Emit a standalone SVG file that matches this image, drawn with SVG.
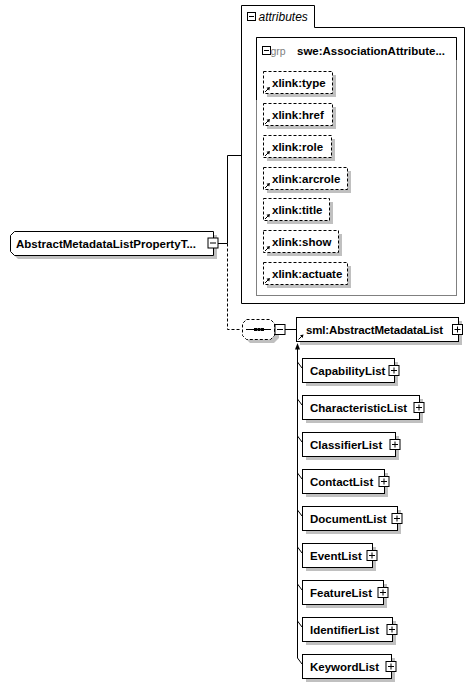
<svg xmlns="http://www.w3.org/2000/svg" width="475" height="688" viewBox="0 0 475 688">
<style>
.box{fill:#fff;stroke:#000;stroke-width:1}
.dbox{fill:#fff;stroke:#000;stroke-width:1;stroke-dasharray:3,2}
.sh{fill:#c0c0c0}
.ln{fill:none;stroke:#000;stroke-width:1}
.dl{fill:none;stroke:#000;stroke-width:1;stroke-dasharray:3,2}
.pm{fill:#fff;stroke:#000;stroke-width:1}
.t{font-family:"Liberation Sans",Arial,sans-serif;font-weight:bold;font-size:11.5px;fill:#000}
.tb{font-family:"Liberation Sans",Arial,sans-serif;font-weight:bold;font-size:11.5px;fill:#000}
.ti{font-family:"Liberation Sans",Arial,sans-serif;font-style:italic;font-size:12px;fill:#000}
.tg{font-family:"Liberation Sans",Arial,sans-serif;font-size:10.5px;fill:#808080}
</style>
<defs>
<g id="lnk"><path d="M0,5 L4,1" class="ln"/><path d="M5,0 L1.5,0.8 L4.2,3.5 Z" fill="#000"/></g>
<g id="minus"><rect x="0.5" y="0.5" width="10" height="10" class="pm"/><path d="M2.5,5.5 H8.5" class="ln"/></g>
<g id="plus"><rect x="0.5" y="0.5" width="10" height="10" class="pm"/><path d="M2.5,5.5 H8.5 M5.5,2.5 V8.5" class="ln"/></g>
<g id="sminus"><rect x="0.5" y="0.5" width="8" height="8" class="pm"/><path d="M2,4.5 H7" class="ln"/></g>
</defs>

<g id="connectors">
<path d="M218,243.5 H227.5 V155.5 H241" class="ln"/>
<path d="M227.5,243.5 V329.5 H241" class="dl"/>
<path d="M285,329.5 H296" class="ln"/>
<path d="M297.5,349 V658 L302,664" class="ln"/>
<path d="M297.5,343 L295,349.5 H300 Z" fill="#000"/>
<path d="M297.5,362 L302,368 M297.5,399 L302,405 M297.5,436 L302,442 M297.5,473 L302,479 M297.5,510 L302,516 M297.5,547 L302,553 M297.5,584 L302,590 M297.5,621 L302,627" class="ln"/>
</g>

<g id="attributes">
<path d="M241.5,5.5 H314.5 V27.5 H464.5 V303.5 H241.5 Z" class="ln"/>
<use href="#sminus" x="247" y="12"/>
<text x="258.5" y="21" class="ti">attributes</text>
</g>

<g id="grp">
<rect x="256.5" y="37.5" width="200" height="258" fill="none" stroke="#808080"/>
<path d="M256.5,100 V37.5 H456.5 V60" class="ln"/>
<use href="#sminus" x="262" y="46"/>
<text x="270.5" y="55" class="tg">grp</text>
<text x="297" y="55" class="t" textLength="148">swe:AssociationAttribute...</text>
</g>

<g id="attr-type"><rect x="267" y="75" width="69" height="22" class="sh"/><rect x="263.5" y="71.5" width="69" height="22" class="dbox"/><use href="#lnk" x="265" y="87"/><text x="272" y="86.5" class="t">xlink:type</text></g>
<g id="attr-href"><rect x="267" y="107" width="69" height="22" class="sh"/><rect x="263.5" y="103.5" width="69" height="22" class="dbox"/><use href="#lnk" x="265" y="119"/><text x="272" y="118.5" class="t">xlink:href</text></g>
<g id="attr-role"><rect x="267" y="139" width="68" height="22" class="sh"/><rect x="263.5" y="135.5" width="68" height="22" class="dbox"/><use href="#lnk" x="265" y="151"/><text x="272" y="150.5" class="t">xlink:role</text></g>
<g id="attr-arcrole"><rect x="267" y="171" width="84" height="22" class="sh"/><rect x="263.5" y="167.5" width="84" height="22" class="dbox"/><use href="#lnk" x="265" y="183"/><text x="272" y="182.5" class="t">xlink:arcrole</text></g>
<g id="attr-title"><rect x="267" y="202" width="66" height="22" class="sh"/><rect x="263.5" y="198.5" width="66" height="22" class="dbox"/><use href="#lnk" x="265" y="214"/><text x="272" y="213.5" class="t">xlink:title</text></g>
<g id="attr-show"><rect x="267" y="234" width="75" height="22" class="sh"/><rect x="263.5" y="230.5" width="75" height="22" class="dbox"/><use href="#lnk" x="265" y="246"/><text x="272" y="245.5" class="t">xlink:show</text></g>
<g id="attr-actuate"><rect x="267" y="266" width="84" height="22" class="sh"/><rect x="263.5" y="262.5" width="84" height="22" class="dbox"/><use href="#lnk" x="265" y="278"/><text x="272" y="277.5" class="t">xlink:actuate</text></g>

<g id="root">
<path d="M18,235 H217 V259 H18 L14,255 V239 Z" class="sh"/>
<path d="M14.5,231.5 H213.5 V255.5 H14.5 L10.5,251.5 V235.5 Z" class="box"/>
<text x="16" y="247.5" class="tb" textLength="180">AbstractMetadataListPropertyT...</text>
<use href="#minus" x="207.5" y="237.5"/>
</g>

<g id="sequence">
<path d="M250,323 H274 L279,328 V338 L274,343 H250 L245,338 V328 Z" class="sh"/>
<path d="M246.5,319.5 H270.5 L274.5,323.5 V335.5 L270.5,339.5 H246.5 L242.5,335.5 V323.5 Z" class="dbox"/>
<path d="M246,329.5 H271" class="ln"/>
<rect x="254" y="328" width="3" height="3" fill="#000"/>
<rect x="257.5" y="328" width="3" height="3" fill="#000"/>
<rect x="261" y="328" width="3" height="3" fill="#000"/>
<use href="#minus" x="274.5" y="324"/>
</g>

<g id="sml">
<rect x="300" y="321" width="162" height="24" class="sh"/>
<rect x="296.5" y="317.5" width="162" height="24" class="box"/>
<use href="#lnk" x="298.5" y="334.5"/>
<text x="306" y="333.5" class="tb" textLength="137">sml:AbstractMetadataList</text>
<use href="#plus" x="452" y="324"/>
</g>

<g id="c1"><rect x="306" y="362" width="92" height="24" class="sh"/><rect x="302.5" y="358.5" width="92" height="24" class="box"/><text x="310" y="374.5" class="t">CapabilityList</text><use href="#plus" x="388.5" y="365"/></g>
<g id="c2"><rect x="306" y="399" width="117" height="24" class="sh"/><rect x="302.5" y="395.5" width="117" height="24" class="box"/><text x="310" y="411.5" class="t">CharacteristicList</text><use href="#plus" x="413.5" y="402"/></g>
<g id="c3"><rect x="306" y="436" width="93" height="24" class="sh"/><rect x="302.5" y="432.5" width="93" height="24" class="box"/><text x="310" y="448.5" class="t">ClassifierList</text><use href="#plus" x="389.5" y="439"/></g>
<g id="c4"><rect x="306" y="473" width="82" height="24" class="sh"/><rect x="302.5" y="469.5" width="82" height="24" class="box"/><text x="310" y="485.5" class="t">ContactList</text><use href="#plus" x="378.5" y="476"/></g>
<g id="c5"><rect x="306" y="510" width="95" height="24" class="sh"/><rect x="302.5" y="506.5" width="95" height="24" class="box"/><text x="310" y="522.5" class="t">DocumentList</text><use href="#plus" x="391.5" y="513"/></g>
<g id="c6"><rect x="306" y="547" width="70" height="24" class="sh"/><rect x="302.5" y="543.5" width="70" height="24" class="box"/><text x="310" y="559.5" class="t">EventList</text><use href="#plus" x="366.5" y="550"/></g>
<g id="c7"><rect x="306" y="584" width="81" height="24" class="sh"/><rect x="302.5" y="580.5" width="81" height="24" class="box"/><text x="310" y="596.5" class="t">FeatureList</text><use href="#plus" x="377.5" y="587"/></g>
<g id="c8"><rect x="306" y="621" width="90" height="24" class="sh"/><rect x="302.5" y="617.5" width="90" height="24" class="box"/><text x="310" y="633.5" class="t">IdentifierList</text><use href="#plus" x="386.5" y="624"/></g>
<g id="c9"><rect x="306" y="658" width="89" height="24" class="sh"/><rect x="302.5" y="654.5" width="89" height="24" class="box"/><text x="310" y="670.5" class="t">KeywordList</text><use href="#plus" x="385.5" y="661"/></g>
</svg>
